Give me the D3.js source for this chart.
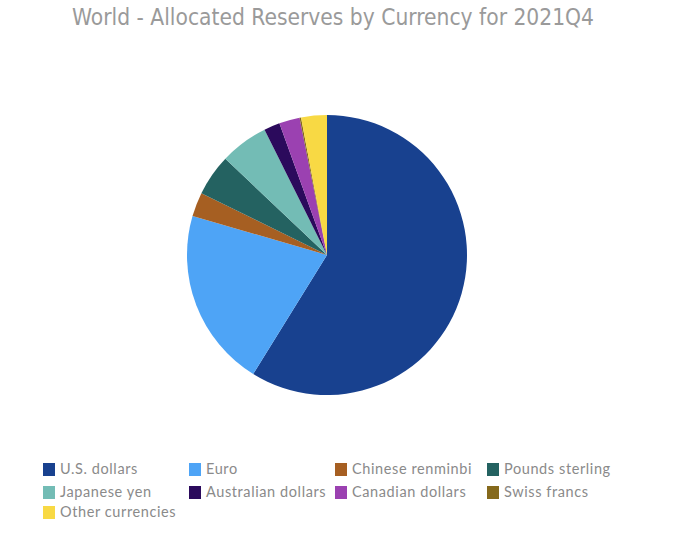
<!DOCTYPE html>
<html><head><meta charset="utf-8">
<script src="https://cdn.jsdelivr.net/npm/d3@7"></script>
<style>body{margin:0;background:#fff;}svg{display:block;}</style>
</head><body>
<svg id="c" width="696" height="552"></svg>
<script>
const categories = ["U.S. dollars","Euro","Chinese renminbi","Pounds sterling","Japanese yen","Australian dollars","Canadian dollars","Swiss francs","Other currencies"];
const shares = [58.81, 20.64, 2.79, 4.78, 5.57, 1.84, 2.38, 0.17, 2.97];
const colors = ["#18418f","#4ea4f6","#a65f22","#246261","#73bcb5","#2b0a5c","#9b41b1","#85691c","#f8d944"];
const title = "World - Allocated Reserves by Currency for 2021Q4";

const svg = d3.select("#c");
const data = categories.map((c,i)=>({name:c, value:shares[i], color:colors[i]}));

svg.append("text").attr("x",333).attr("y",25).attr("text-anchor","middle")
  .attr("font-family","'Liberation Sans Narrow', 'DejaVu Sans Condensed', Lato, sans-serif").attr("font-size",23)
  .attr("fill","#9a9a9a").attr("textLength",522).attr("lengthAdjust","spacingAndGlyphs")
  .text(title);

const pie = d3.pie().sort(null).value(d=>d.value);
const arc = d3.arc().innerRadius(0).outerRadius(140);
const g = svg.append("g").attr("transform","translate(327,255)");
g.selectAll("path").data(pie(data)).join("path")
  .attr("d",arc).attr("fill",d=>d.data.color);

const colX = [43,189,335,487];
const rowY = [463,486,506];
const lg = svg.append("g");
data.forEach((d,i)=>{
  const x = colX[i%4], y = rowY[Math.floor(i/4)];
  lg.append("rect").attr("x",x).attr("y",y).attr("width",12).attr("height",13).attr("fill",d.color);
  lg.append("text").attr("x",x+17).attr("y",y+11)
    .attr("font-family","Lato, 'Open Sans', sans-serif").attr("font-size",14.5)
    .attr("letter-spacing",0.6)
    .attr("fill","#8a8a8a").text(d.name);
});
</script>
</body></html>
